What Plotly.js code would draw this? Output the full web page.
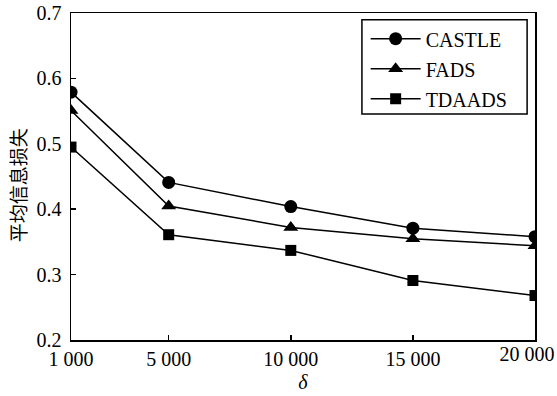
<!DOCTYPE html>
<html><head><meta charset="utf-8">
<script src="https://cdn.plot.ly/plotly-3.0.1.min.js"></script>
<style>html,body{margin:0;padding:0;background:#fff;}</style>
</head><body>
<div id="chart" style="width:557px;height:396px;"></div>
<script>
const deltas = [1000, 5000, 10000, 15000, 20000];
const tickLabels = ["1 000", "5 000", "10 000", "15 000", "20 000"];
const castle = [0.579, 0.441, 0.404, 0.371, 0.358];
const fads = [0.551, 0.405, 0.372, 0.355, 0.344];
const tdaads = [0.495, 0.361, 0.337, 0.291, 0.268];
const seriesNames = ["CASTLE", "FADS", "TDAADS"];
const yTitle = "平均信息损失";
const xTitle = "δ";

const serif = "'Liberation Serif', serif";
function tr(y, name, symbol, size, grp) {
  return {x: deltas, y: y, name: name, type: "scatter", mode: "lines+markers",
    legendgroup: grp,
    line: {color: "#000", width: 1.5},
    marker: {symbol: symbol, size: size, color: "#000"}};
}
const data = [
  tr(castle, seriesNames[0], "circle", 13, "a"),
  tr(fads, seriesNames[1], "triangle-up", 13, "b"),
  tr(tdaads, seriesNames[2], "square", 11, "c"),
  {x: [], y: [], xaxis: "x2", yaxis: "y", type: "scatter", mode: "markers",
   showlegend: false, hoverinfo: "skip"}
];
const n = deltas.length;
const mainText = tickLabels.slice(0, n - 1).concat([""]);
const axCommon = {type: "linear", range: [deltas[0], deltas[n - 1]],
  ticks: "inside", ticklen: 5, tickcolor: "#000", tickwidth: 1.5,
  showgrid: false, zeroline: false, ticklabeloverflow: "allow",
  tickfont: {family: serif, size: 20, color: "#000"}};
const layout = {
  width: 557, height: 396,
  margin: {l: 71, r: 22, t: 13, b: 56},
  paper_bgcolor: "#fff", plot_bgcolor: "#fff",
  font: {family: serif, size: 20, color: "#000"},
  showlegend: true,
  legend: {x: 0.635, y: 0.981, xanchor: "left", yanchor: "top",
    borderwidth: 0, bgcolor: "rgba(0,0,0,0)",
    font: {family: serif, size: 20, color: "#000"},
    itemwidth: 50,
    tracegroupgap: 1},
  shapes: [{type: "rect", xref: "paper", yref: "paper",
    x0: 0.627, x1: 0.983, y0: 0.691, y1: 0.979,
    line: {color: "#000", width: 1.5}, fillcolor: "rgba(0,0,0,0)", layer: "below"}],
  annotations: [{text: yTitle, textangle: -90, xref: "paper", yref: "paper",
    x: -0.116, y: 0.474, xanchor: "center", yanchor: "middle", showarrow: false,
    font: {family: "Noto Sans CJK SC", size: 19, color: "#000"}}],
  xaxis: Object.assign({}, axCommon, {tickvals: deltas, ticktext: mainText,
    showline: true, linecolor: "#000", linewidth: 1.5, mirror: true,
    title: {text: xTitle, font: {family: serif, size: 20, style: "italic", color: "#000"}, standoff: 6}}),
  xaxis2: Object.assign({}, axCommon, {overlaying: "x", side: "bottom", anchor: "y",
    tickvals: [deltas[n - 1]], ticktext: [tickLabels[n - 1]], ticks: "",
    showline: false, ticklabelshift: -8}),
  yaxis: {range: [0.2, 0.7], dtick: 0.1, tickformat: ".1f",
    ticks: "inside", ticklen: 5, tickcolor: "#000", tickwidth: 1.5,
    showline: true, linecolor: "#000", linewidth: 1.5, mirror: true,
    showgrid: false, zeroline: false,
    tickfont: {family: serif, size: 20, color: "#000"},
    ticklabelstandoff: 4}
};
Plotly.newPlot("chart", data, layout, {displayModeBar: false, staticPlot: true});
</script>
</body></html>
